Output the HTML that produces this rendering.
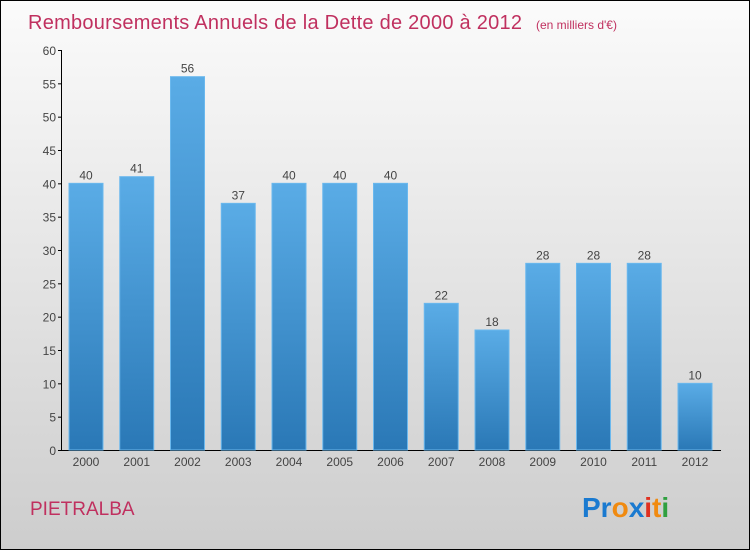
<!DOCTYPE html>
<html><head><meta charset="utf-8"><style>
body{margin:0;width:750px;height:550px;overflow:hidden;font-family:"Liberation Sans",sans-serif}
</style></head><body>
<svg width="750" height="550" xmlns="http://www.w3.org/2000/svg">
<defs>
<linearGradient id="bg" x1="0" y1="0" x2="0" y2="1"><stop offset="0" stop-color="#fbfbfb"/><stop offset="1" stop-color="#cdcdcd"/></linearGradient>
<linearGradient id="bar" x1="0" y1="0" x2="0" y2="1"><stop offset="0" stop-color="#5aace6"/><stop offset="1" stop-color="#2a78b6"/></linearGradient>
</defs>
<rect x="0.5" y="0.5" width="749" height="549" fill="url(#bg)" stroke="#000"/>
<text x="28" y="29" font-size="20" fill="#c0305f" textLength="494">Remboursements Annuels de la Dette de 2000 à 2012</text>
<text x="536" y="29" font-size="12" fill="#c0305f">(en milliers d'€)</text>
<g id="axes"></g><g id="bars"></g>
<text x="30" y="515" font-size="19" fill="#c0305f">PIETRALBA</text>
<text x="582" y="517" font-size="28" font-weight="bold"><tspan fill="#1a7ad0">Pr</tspan><tspan fill="#f08a10">o</tspan><tspan fill="#1a7ad0">x</tspan><tspan fill="#e03020">i</tspan><tspan fill="#f08a10">t</tspan><tspan fill="#30a040">i</tspan></text>
</svg>
<script>
const categories=["2000","2001","2002","2003","2004","2005","2006","2007","2008","2009","2010","2011","2012"];
const values=[40,41,56,37,40,40,40,22,18,28,28,28,10];
const yTicks=[0,5,10,15,20,25,30,35,40,45,50,55,60];
const ns="http://www.w3.org/2000/svg";
const y=v=>450-v*400/60;
const x=i=>86+i*50.75;
function mk(t,a,p,txt){const e=document.createElementNS(ns,t);for(const k in a)e.setAttribute(k,a[k]);if(txt!==undefined)e.textContent=txt;p.appendChild(e);return e;}
const ax=document.getElementById('axes'),bg=document.getElementById('bars');
let l=mk('line',{x1:61.5,y1:50,x2:61.5,y2:450,stroke:'#000'},ax);


l=mk('line',{x1:61,y1:450.5,x2:721,y2:450.5,stroke:'#000'},ax);


yTicks.forEach(v=>{
 mk('line',{x1:58,y1:y(v)+.5,x2:62,y2:y(v)+.5,stroke:'#000'},ax);
 const t=mk('text',{x:56,y:y(v)+5,'text-anchor':'end','font-size':12,fill:'#444'},ax,v);
 
 
});
categories.forEach((c,i)=>{
 const r=mk('rect',{x:x(i)-17,y:y(values[i]),width:34,height:450-y(values[i]),fill:'url(#bar)',stroke:'#6ab8ee','stroke-width':1},bg);
 
 
 const t=mk('text',{x:x(i),y:y(values[i])-4,'text-anchor':'middle','font-size':12,fill:'#444'},bg,values[i]);
 
 
 const xl=mk('text',{x:x(i),y:466,'text-anchor':'middle','font-size':12,fill:'#444'},bg,c);
 
 
});
</script>
</body></html>
